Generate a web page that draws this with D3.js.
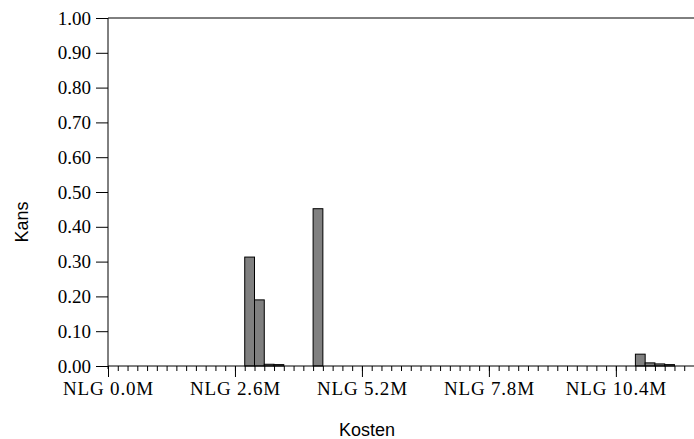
<!DOCTYPE html>
<html>
<head>
<meta charset="utf-8">
<script src="https://cdn.jsdelivr.net/npm/d3@7"></script>
<style>
  body { margin: 0; background: #fff; }
  .tick text { font-family: "Liberation Serif", "Times New Roman", serif; font-size: 19px; fill: #000; }
  .x-major .tick text { letter-spacing: 0.8px; }
  .axis-title { font-family: "Liberation Sans", Arial, sans-serif; font-size: 18px; fill: #000; }
</style>
</head>
<body>
<script>
// histogram data (costs in millions NLG, bin width 0.2M)
const binWidth = 0.2;
const binStarts = [2.8, 3.0, 3.2, 3.4, 4.2, 10.8, 11.0, 11.2, 11.4];
const probs = [0.313, 0.19, 0.005, 0.004, 0.452, 0.034, 0.009, 0.006, 0.004];
const majorTicks = [0, 2.6, 5.2, 7.8, 10.4];
const yTicks = [0, 0.1, 0.2, 0.3, 0.4, 0.5, 0.6, 0.7, 0.8, 0.9, 1.0];

const W = 694, H = 439;
const margin = {top: 18, right: 0, bottom: 73, left: 108};

const svg = d3.select("body").append("svg")
    .attr("width", W)
    .attr("height", H);

const x = d3.scaleLinear()
    .domain([0, 12.0])
    .range([margin.left, W - margin.right]);

const y = d3.scaleLinear()
    .domain([0, 1])
    .range([H - margin.bottom, margin.top]);

// minor ticks, one per bin
const minorTicks = d3.range(0, 60).map(i => +(i * binWidth).toFixed(1));

// bars
svg.append("g").selectAll("rect")
    .data(binStarts)
    .enter().append("rect")
    .attr("x", (d) => x(d))
    .attr("y", (d, i) => y(probs[i]))
    .attr("width", (d) => x(d + binWidth) - x(d))
    .attr("height", (d, i) => y(0) - y(probs[i]))
    .attr("fill", "#808080")
    .attr("stroke", "#000")
    .attr("stroke-width", 1);

// x axis minor
svg.append("g")
    .attr("transform", "translate(0," + y(0) + ")")
    .call(d3.axisBottom(x).tickValues(minorTicks).tickSize(5).tickFormat(""))
    .call(g => g.select(".domain").remove());

// x axis major with labels
svg.append("g")
    .attr("class", "x-major")
    .attr("transform", "translate(0," + y(0) + ")")
    .call(d3.axisBottom(x).tickValues(majorTicks).tickSize(11).tickPadding(5)
        .tickFormat(d => "NLG " + d.toFixed(1) + "M"))
    .call(g => g.select(".domain").attr("d", "M" + x(0) + ",0H" + W));

// y axis
svg.append("g")
    .attr("transform", "translate(" + x(0) + ",0)")
    .call(d3.axisLeft(y).tickValues(yTicks).tickSize(12).tickPadding(5).tickFormat(d3.format(".2f")))
    .call(g => g.select(".domain").attr("d", "M0," + y(1) + "V" + (y(0) + 3)));

// top frame line
svg.append("line")
    .attr("x1", x(0))
    .attr("x2", W)
    .attr("y1", y(1))
    .attr("y2", y(1))
    .attr("stroke", "#000");

// axis titles
svg.append("text")
    .attr("class", "axis-title")
    .attr("x", 367)
    .attr("y", 436)
    .attr("text-anchor", "middle")
    .text("Kosten");

svg.append("text")
    .attr("class", "axis-title")
    .attr("transform", "translate(28,222) rotate(-90)")
    .attr("text-anchor", "middle")
    .text("Kans");
</script>
</body>
</html>
